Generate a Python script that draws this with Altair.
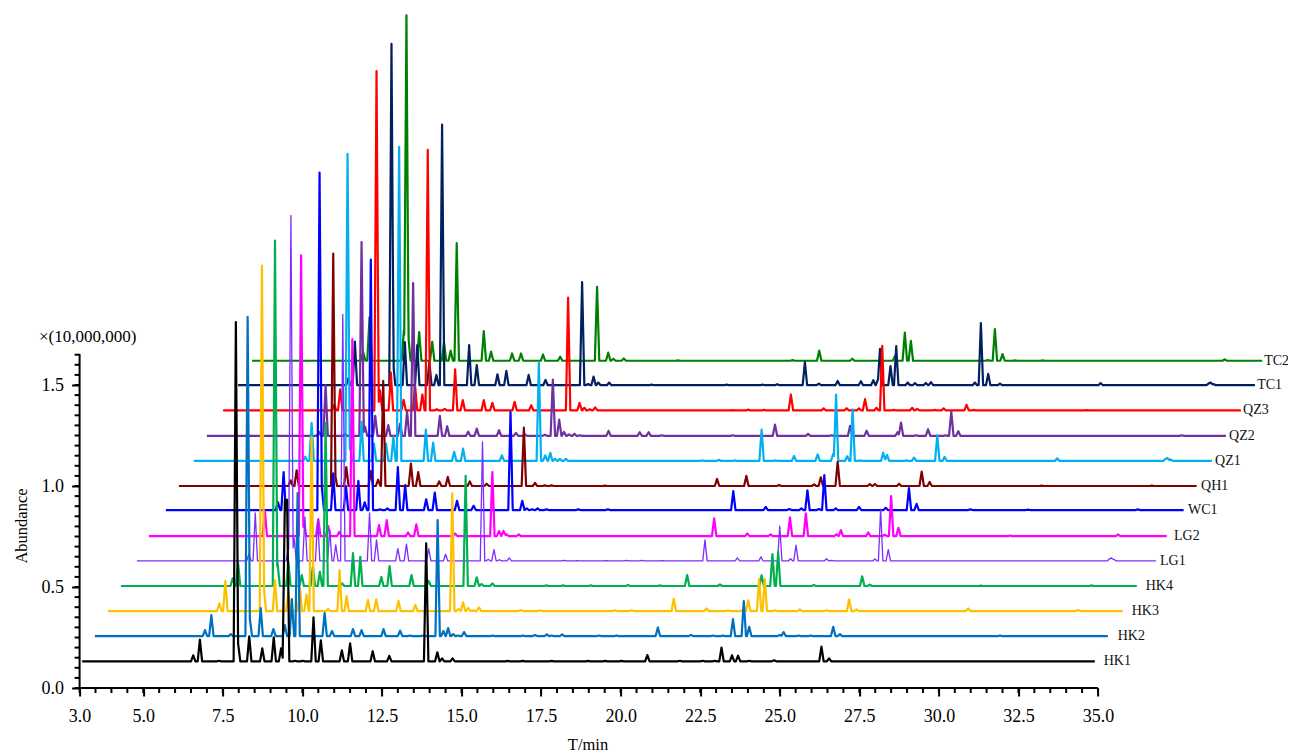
import altair as alt
import numpy as np
import pandas as pd

NAMES = ["HK1","HK2","HK3","HK4","LG1","LG2","WC1","QH1","QZ1","QZ2","QZ3","TC1","TC2"]
COLORS = ["#000000","#0070C0","#FFC000","#00B050","#7F2BFF","#FF00FF","#0000FF","#800000","#00B0F0","#7030A0","#FF0000","#002060","#008000"]
WIDTHS = [2.2,2.2,2.2,2.2,1.3,2.2,2.2,2.2,2.2,2.2,2.2,2.2,2.2]
BASES = [0.132,0.257,0.381,0.505,0.629,0.752,0.881,1.0,1.124,1.248,1.374,1.499,1.620]
STARTS = [3.08,3.48,3.89,4.30,4.80,5.18,5.71,6.12,6.59,7.00,7.51,7.98,8.42]
ENDS = [34.90,35.31,35.78,36.22,36.82,37.16,37.69,38.10,38.58,39.02,39.49,39.93,40.16]
LABEL_T = [35.18,35.62,36.06,36.50,36.95,37.39,37.83,38.24,38.68,39.12,39.56,40.00,40.22]
HALF_WIDTH = 0.07

HK1 = [(6.57,.030),(6.78,.107),(7.38,.003),(7.91,1.68),(7.98,.089),(8.33,.124),(8.74,.064),(9.10,.119),(9.33,.064),(9.45,.80),(9.52,.80),(9.77,.003),(10.01,.003),(10.35,.218),(10.58,.104),(11.24,.054),(11.50,.089),(12.21,.050),(12.73,.027),(13.89,.584),(14.24,.045),(14.39,.015),(14.72,.015),(16.45,.002),(16.92,.002),(17.83,.002),(18.97,.002),(19.51,.002),(20.03,.002),(20.84,.031),(21.86,.003),(22.58,.003),(22.96,.003),(23.17,.068),(23.50,.030),(23.69,.028),(24.04,.003),(24.82,.005),(26.31,.073),(26.55,.015)]
HK2 = [(6.94,.030),(7.14,.104),(7.75,.010),(8.28,1.58),(8.35,.084),(8.69,.139),(9.09,.035),(9.45,.054),(9.67,.183),(9.85,.708),(10.70,.114),(10.93,.025),(11.59,.035),(11.86,.030),(12.55,.035),(13.07,.027),(13.38,.003),(13.79,.003),(14.25,.574),(14.43,.025),(14.58,.040),(14.74,.010),(14.89,.003),(15.08,.020),(15.98,.003),(16.93,.003),(17.31,.005),(17.68,.008),(17.83,.003),(18.16,.008),(19.32,.003),(19.87,.003),(21.17,.043),(22.21,.005),(22.90,.003),(23.21,.003),(23.53,.084),(23.87,.173),(24.04,.046),(25.00,.005),(25.12,.020),(25.59,.003),(25.97,.003),(26.68,.046),(26.89,.010),(31.92,.003)]
HK3 = [(7.39,.038),(7.58,.149),(8.73,1.71),(8.79,.112),(9.14,.153),(9.56,.093),(9.92,.117),(10.13,.083),(10.29,.861),(10.81,.010),(11.17,.203),(11.39,.074),(12.06,.054),(12.32,.058),(13.02,.051),(13.55,.030),(14.71,.583),(14.91,.010),(15.05,.043),(15.21,.015),(15.36,.003),(15.55,.018),(16.86,.005),(17.46,.003),(19.82,.003),(20.34,.003),(21.67,.061),(22.70,.013),(23.37,.003),(23.84,.005),(24.01,.053),(24.35,.158),(24.53,.158),(24.85,.003),(25.63,.008),(26.47,.003),(27.18,.058),(27.41,.008),(30.92,.013),(34.37,.005)]
HK4 = [(7.81,.038),(7.98,.112),(9.14,1.71),(9.22,.114),(9.56,.119),(9.98,.054),(10.33,.094),(10.55,.070),(10.73,.807),(11.25,.013),(11.59,.163),(11.82,.144),(12.48,.045),(12.74,.099),(13.43,.054),(13.97,.025),(15.13,.545),(15.48,.043),(15.63,.010),(15.97,.013),(17.67,.003),(18.19,.003),(19.06,.003),(20.23,.005),(21.23,.003),(22.09,.054),(23.12,.008),(24.43,.053),(24.77,.158),(24.95,.168),(26.07,.005),(27.59,.048),(27.83,.007),(31.32,.002),(34.80,.003)]
LG1 = [(8.32,.035),(8.52,.238),(9.56,.069),(9.64,1.71),(9.74,.114),(10.08,.218),(10.48,.203),(10.86,.153),(11.05,.079),(11.27,1.22),(12.11,.238),(12.33,.104),(13.00,.061),(13.27,.083),(13.97,.061),(14.50,.033),(15.66,.589),(15.84,.008),(16.02,.056),(16.19,.006),(16.50,.015),(18.22,.003),(18.62,.002),(19.56,.002),(20.19,.003),(20.66,.003),(21.32,.002),(22.65,.104),(23.67,.015),(24.41,.020),(25.00,.172),(25.34,.011),(25.51,.078),(26.47,.011),(26.63,.003),(27.99,.010),(28.17,.257),(28.41,.056),(35.36,.010),(35.42,.015),(35.50,.008)]
LG2 = [(8.82,.124),(9.96,1.39),(10.05,.064),(10.50,.084),(10.81,.050),(11.16,.021),(11.57,.975),(12.41,.054),(12.65,.079),(13.32,.018),(13.58,.058),(14.80,.013),(15.97,.317),(16.18,.025),(16.32,.026),(16.42,.008),(16.80,.008),(22.94,.088),(23.98,.013),(24.71,.008),(25.32,.093),(25.82,.112),(26.78,.008),(26.92,.030),(27.78,.018),(28.30,.007),(28.50,.198),(28.73,.041),(32.23,.003),(35.63,.008)]
WC1 = [(9.23,.040),(9.41,.188),(10.54,1.67),(10.61,.114),(10.97,.182),(11.37,.119),(11.76,.144),(11.96,.038),(12.15,1.24),(12.44,.003),(12.67,.008),(13.00,.213),(13.23,.124),(13.89,.053),(14.16,.086),(14.86,.046),(15.38,.021),(16.54,.485),(16.91,.046),(17.05,.008),(17.22,.003),(17.39,.008),(17.67,.003),(18.67,.003),(19.60,.003),(23.54,.094),(24.56,.015),(25.30,.005),(25.68,.008),(25.87,.098),(26.23,.005),(26.40,.173),(26.76,.008),(27.49,.016),(28.33,.011),(29.06,.109),(29.30,.031),(30.99,.003),(32.80,.002),(36.25,.003)]
QH1 = [(9.63,.028),(9.82,.078),(10.97,1.15),(11.02,.064),(11.38,.094),(12.15,.074),(12.38,.031),(12.54,.520),(13.41,.111),(13.64,.069),(14.30,.023),(14.57,.045),(15.26,.023),(15.79,.011),(16.96,.289),(17.31,.015),(17.62,.003),(17.83,.003),(19.51,.002),(23.03,.035),(23.95,.050),(24.98,.005),(26.08,.008),(26.29,.043),(26.82,.120),(27.83,.010),(27.99,.010),(28.75,.011),(29.46,.071),(29.71,.020),(33.23,.002),(36.69,.002)]
QZ1 = [(10.09,.021),(10.29,.188),(11.42,1.52),(11.50,.069),(11.86,.193),(12.25,.086),(12.63,.086),(12.86,.119),(13.04,1.555),(13.88,.155),(14.11,.091),(14.77,.045),(15.05,.061),(16.27,.028),(17.43,.487),(17.63,.028),(17.79,.040),(17.94,.011),(18.09,.010),(18.28,.010),(22.56,.003),(23.09,.006),(23.59,.003),(24.43,.155),(24.87,.003),(25.45,.025),(26.19,.033),(26.68,.035),(26.77,.328),(27.12,.023),(27.29,.256),(27.52,.003),(28.25,.041),(28.37,.030),(28.98,.003),(29.22,.016),(29.95,.127),(30.18,.020),(33.72,.013),(37.12,.010),(37.18,.015),(37.28,.008)]
QZ2 = [(10.52,.021),(10.73,.252),(11.34,.010),(11.86,.960),(11.97,.045),(12.29,.099),(12.70,.053),(13.07,.061),(13.29,.119),(13.48,.757),(14.32,.099),(14.55,.048),(15.21,.021),(15.48,.036),(16.18,.028),(16.71,.015),(16.99,.008),(17.62,.006),(17.87,.279),(18.07,.081),(18.22,.020),(18.38,.008),(18.55,.011),(18.72,.003),(19.62,.025),(20.60,.018),(20.88,.018),(21.29,.003),(23.53,.003),(24.85,.056),(25.89,.010),(26.63,.003),(27.21,.050),(27.73,.026),(28.70,.018),(28.81,.066),(29.28,.003),(29.66,.033),(30.21,.003),(30.39,.120),(30.61,.023),(37.63,.003)]
QZ3 = [(11.00,.028),(11.19,.104),(12.33,1.68),(12.44,.100),(12.78,.188),(13.18,.053),(13.54,.124),(13.77,.079),(13.94,1.29),(14.22,.006),(14.47,.008),(14.80,.203),(15.04,.051),(15.70,.051),(15.97,.038),(16.67,.043),(17.19,.026),(18.35,.559),(18.71,.038),(18.86,.013),(19.03,.006),(19.20,.015),(23.52,.002),(24.01,.004),(24.51,.003),(25.35,.078),(26.38,.010),(27.10,.011),(27.49,.010),(27.68,.056),(28.04,.013),(28.22,.320),(28.58,.003),(29.16,.013),(29.32,.008),(29.87,.003),(30.15,.010),(30.87,.028),(31.10,.003),(34.64,.002)]
TC1 = [(11.45,.035),(11.65,.216),(12.80,1.69),(12.85,.114),(13.22,.213),(13.61,.198),(13.99,.117),(14.21,.051),(14.39,1.29),(15.24,.198),(15.48,.099),(16.13,.054),(16.41,.071),(17.11,.051),(17.64,.026),(18.79,.510),(18.98,.006),(19.15,.043),(19.30,.013),(19.64,.013),(20.97,.003),(23.33,.003),(24.46,.003),(24.92,.005),(25.79,.114),(26.23,.008),(26.82,.021),(27.55,.020),(27.94,.025),(28.09,.031),(28.15,.180),(28.48,.094),(28.66,.193),(29.02,.013),(29.25,.010),(29.59,.011),(29.75,.015),(31.13,.013),(31.32,.308),(31.55,.056),(31.92,.008),(35.08,.010),(38.48,.009),(38.54,.013),(38.63,.006)]
TC2 = [(11.91,.043),(12.11,.215),(13.19,.15),(13.27,1.71),(13.33,.122),(13.67,.142),(14.08,.094),(14.45,.091),(14.66,.050),(14.85,.582),(15.70,.147),(15.93,.045),(16.59,.036),(16.87,.036),(17.56,.031),(18.10,.020),(19.26,.366),(19.61,.040),(19.77,.010),(20.10,.011),(21.80,.002),(25.40,.003),(26.24,.050),(27.28,.010),(28.62,.023),(28.93,.139),(29.12,.099),(31.54,.003),(31.76,.157),(32.00,.033),(32.39,.002),(33.26,.002),(38.98,.007)]
PEAKS = [HK1,HK2,HK3,HK4,LG1,LG2,WC1,QH1,QZ1,QZ2,QZ3,TC1,TC2]

X_MAJOR = [3.0,5.0,7.5,10.0,12.5,15.0,17.5,20.0,22.5,25.0,27.5,30.0,32.5,35.0]
Y_MAJOR = [0.0,0.5,1.0,1.5]
X_MINOR = [3.0+0.5*i for i in range(65)]
Y_MINOR = [round(0.05*i,2) for i in range(34)]
X_AXIS_END = 35.0
Y_AXIS_END = 1.653
X_TITLE = "T/min"
Y_TITLE = "Abundance"
UNIT = "×(10,000,000)"

FONT = "Liberation Serif"
x_scale = alt.Scale(domain=[3,35], nice=False, zero=False)
y_scale = alt.Scale(domain=[0,680/202], nice=False, zero=False)

def trace_frame(i):
    pk = PEAKS[i]
    ts = np.array([p[0] for p in pk])
    hs = np.array([p[1] for p in pk])
    grid = np.unique(np.concatenate([[STARTS[i],ENDS[i]],ts-HALF_WIDTH,ts,ts+HALF_WIDTH]))
    tri = np.clip(1-np.abs(grid[:,None]-ts[None,:])/HALF_WIDTH,0,None)*hs[None,:]
    return pd.DataFrame({"t":grid,"a":BASES[i]+tri.max(axis=1)})

axis_x = alt.Axis(values=X_MAJOR,format=".1f",tickSize=8,tickWidth=2,tickColor="black",domain=False,grid=False,title=None,
                  labelFont=FONT,labelFontSize=18,labelColor="black",labelPadding=11,labelOverlap=False,labelFlush=False)
axis_y = alt.Axis(values=Y_MAJOR,format=".1f",tickSize=8,tickWidth=2,tickColor="black",domain=False,grid=False,title=None,
                  labelFont=FONT,labelFontSize=18,labelColor="black",labelPadding=8,labelOverlap=False,labelFlush=False)
X = alt.X("t:Q",scale=x_scale,axis=axis_x)
Y = alt.Y("a:Q",scale=y_scale,axis=axis_y)

layers = []
layers.append(alt.Chart(pd.DataFrame({"t":[3.0],"t2":[X_AXIS_END],"a":[0.0]})).mark_rule(color="black",strokeWidth=2).encode(x=X,x2="t2:Q",y=Y))
layers.append(alt.Chart(pd.DataFrame({"t":[3.0],"a":[0.0],"a2":[Y_AXIS_END]})).mark_rule(color="black",strokeWidth=2).encode(x=X,y=Y,y2="a2:Q"))
layers.append(alt.Chart(pd.DataFrame({"t":X_MINOR})).mark_rule(color="black",strokeWidth=2).encode(x=X,y=alt.value(680),y2=alt.value(685)))
layers.append(alt.Chart(pd.DataFrame({"a":Y_MINOR})).mark_rule(color="black",strokeWidth=2).encode(y=Y,x=alt.value(-5),x2=alt.value(0)))

for i in range(len(NAMES)-1,-1,-1):
    layers.append(alt.Chart(trace_frame(i)).mark_line(color=COLORS[i],strokeWidth=WIDTHS[i],strokeJoin="round",clip=False).encode(x=X,y=Y))

layers.append(alt.Chart(pd.DataFrame({"t":LABEL_T,"a":BASES,"n":NAMES})).mark_text(font=FONT,fontSize=14,color="#111111",align="left",baseline="middle").encode(x=X,y=Y,text="n:N"))
layers.append(alt.Chart(pd.DataFrame({"s":[UNIT]})).mark_text(font=FONT,fontSize=17,color="black",align="left",baseline="middle").encode(x=alt.value(-40.6),y=alt.value(329),text="s:N"))
layers.append(alt.Chart(pd.DataFrame({"s":[X_TITLE]})).mark_text(font=FONT,fontSize=16.5,color="black",align="center",baseline="middle").encode(x=alt.value(508.4),y=alt.value(737),text="s:N"))
layers.append(alt.Chart(pd.DataFrame({"s":[Y_TITLE]})).mark_text(font=FONT,fontSize=16.5,color="black",align="center",baseline="middle",angle=270).encode(x=alt.value(-57.6),y=alt.value(518),text="s:N"))

chart = alt.layer(*layers).properties(
    width=1018.4,height=680,
    autosize=alt.AutoSizeParams(type="none"),
    padding={"left":71.6,"top":0,"right":190,"bottom":66},
    background="white",
).configure_view(stroke=None)

chart.save("out.html", embed_options={"renderer":"svg","actions":False})
